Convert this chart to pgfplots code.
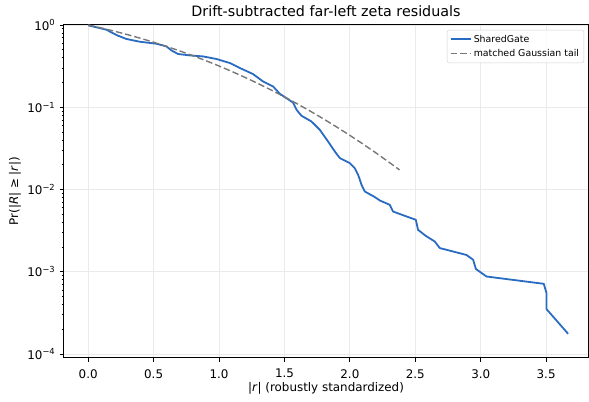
\documentclass[border=0pt]{standalone}
\usepackage{pgfplots}
\pgfplotsset{compat=1.18}
\usepackage{fontspec}
\setmainfont{DejaVu Sans}
\definecolor{sgblue}{HTML}{2A6BC2}
\definecolor{gtail}{HTML}{777777}
\definecolor{gridc}{HTML}{EAEAEA}
\begin{document}
\begin{tikzpicture}
\useasboundingbox (-64bp,-44.5bp) rectangle (525bp,357.5bp);
\begin{axis}[
  at={(0,0)}, anchor=south west,
  scale only axis, width=524bp, height=332.5bp,
  ymode=log,
  xmin=-0.185, xmax=3.82, ymin=9.06e-5, ymax=1.0,
  xtick={0,0.5,1,1.5,2,2.5,3,3.5},
  xticklabels={0.0,0.5,1.0,1.5,2.0,2.5,3.0,3.5},
  ytick={1e-4,1e-3,1e-2,1e-1,1},
  yticklabels={10\textsuperscript{−4},10\textsuperscript{−3},10\textsuperscript{−2},10\textsuperscript{−1},10\textsuperscript{0}},
  minor ytick={2e-4,3e-4,4e-4,5e-4,6e-4,7e-4,8e-4,9e-4,2e-3,3e-3,4e-3,5e-3,6e-3,7e-3,8e-3,9e-3,2e-2,3e-2,4e-2,5e-2,6e-2,7e-2,8e-2,9e-2,2e-1,3e-1,4e-1,5e-1,6e-1,7e-1,8e-1,9e-1},
  tick align=outside, tick pos=left,
  major tick length=4.2bp, minor tick length=2.4bp,
  every tick/.style={black, line width=0.9bp},
  axis line style={black, line width=1.0bp},
  grid=major, major grid style={gridc, line width=0.9bp},
  ticklabel style={font=\fontsize{11.9bp}{14bp}\selectfont},
  xticklabel style={yshift=-4bp},
  yticklabel style={xshift=-1bp},
  title={Drift-subtracted far-left zeta residuals},
  title style={font=\fontsize{14.3bp}{17bp}\selectfont, at={(axis description cs:0.5,1)}, anchor=south, inner sep=0pt, yshift=2bp},
  xlabel={|\textit{r}| (robustly standardized)},
  xlabel style={font=\fontsize{11.9bp}{14bp}\selectfont, at={(axis description cs:0.5,0)}, anchor=center, inner sep=0pt, yshift=-31bp},
  ylabel={Pr(|\textit{R}| ≥ |\textit{r}|)},
  ylabel style={font=\fontsize{11.9bp}{14bp}\selectfont, at={(axis description cs:-0.0935,0.5)}, anchor=center, inner sep=0pt},
  legend style={at={(axis description cs:1,1)}, anchor=north east, xshift=-4bp, yshift=-5bp,
    draw=black!18, rounded corners=2bp, fill=white, fill opacity=0.8, text opacity=1,
    font=\fontsize{9.4bp}{11bp}\selectfont, inner sep=2.8bp, row sep=1.8bp},
  legend cell align=left,
  legend image code/.code={\draw[#1] (0bp,0bp) -- (20bp,0bp);},
]
\addplot[sgblue, line width=1.8bp, line join=round] coordinates {
(0,0.99) (0.139,0.877) (0.177,0.813) (0.228,0.741) (0.292,0.676) (0.394,0.626)
(0.521,0.592) (0.598,0.549) (0.636,0.491) (0.687,0.444) (0.776,0.427) (0.878,0.415)
(0.980,0.386) (1.082,0.345) (1.171,0.294) (1.260,0.253) (1.336,0.206) (1.413,0.179)
(1.464,0.146) (1.566,0.114) (1.592,0.0933) (1.630,0.0788) (1.706,0.0672) (1.770,0.0532)
(1.833,0.0384) (1.885,0.029) (1.923,0.0241) (2.000,0.0209) (2.037,0.0182) (2.063,0.0151)
(2.089,0.0114) (2.114,0.00946) (2.190,0.0081) (2.229,0.00735) (2.305,0.00651) (2.330,0.0054)
(2.420,0.00478) (2.504,0.00428) (2.521,0.00323) (2.580,0.00273) (2.649,0.00233) (2.687,0.00194)
(2.891,0.0016) (2.942,0.0014) (2.963,0.00108) (3.044,0.000875) (3.482,0.000713) (3.503,0.00055)
(3.503,0.000351) (3.668,0.000176)
};
\addlegendentry{SharedGate}
\addplot[gtail, line width=1.4bp, dash pattern=on 6.5bp off 3bp] coordinates {
(0,1.0) (0.1,0.9203) (0.2,0.8415) (0.3,0.7642) (0.4,0.6892) (0.5,0.6171) (0.6,0.5485)
(0.7,0.4839) (0.8,0.4237) (0.9,0.3681) (1.0,0.3173) (1.1,0.2713) (1.2,0.2301) (1.3,0.1936)
(1.4,0.1615) (1.5,0.1336) (1.6,0.1096) (1.7,0.0891) (1.8,0.0719) (1.9,0.0574) (2.0,0.0455)
(2.1,0.0357) (2.2,0.0278) (2.3,0.0214) (2.38,0.0173)
};
\addlegendentry{matched Gaussian tail}
\end{axis}
\end{tikzpicture}
\end{document}
